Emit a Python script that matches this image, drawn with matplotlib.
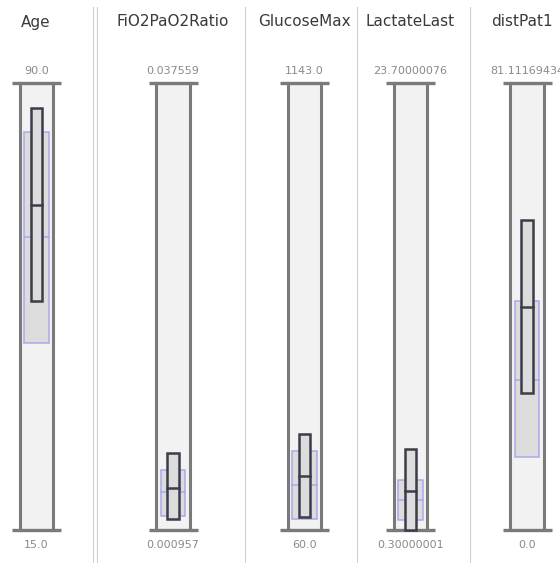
import matplotlib
matplotlib.use("Agg")
import matplotlib.pyplot as plt
from matplotlib.patches import Rectangle
from matplotlib.lines import Line2D

# column data
columns = ["Age", "FiO2PaO2Ratio", "GlucoseMax", "LactateLast", "distPat1"]
max_labels = ["90.0", "0.037559", "1143.0", "23.70000076", "81.11169434"]
min_labels = ["15.0", "0.000957", "60.0", "0.30000001", "0.0"]
col_min = [15.0, 0.000957, 60.0, 0.30000001, 0.0]
col_max = [90.0, 0.037559, 1143.0, 23.70000076, 81.11169434]

# overall box (blue outline)
all_q1 = [46.4, 0.00210, 86.6, 0.82, 13.25]
all_med = [64.2, 0.00407, 169.0, 1.87, 27.22]
all_q3 = [81.7, 0.00587, 251.4, 2.92, 41.55]

# selected box (dark outline)
sel_q1 = [53.4, 0.00186, 91.5, 0.30, 24.86]
sel_med = [69.5, 0.00440, 190.8, 2.34, 40.47]
sel_q3 = [85.8, 0.00726, 292.6, 4.54, 56.25]

# layout in pixels
W, H = 560, 563
centers = [36.5, 173, 304.5, 410.5, 527]
title_x = [36, 173, 304, 410, 522]
separators = [93, 97, 245, 357, 470]
top_px, bottom_px = 83, 530


def fx(px):
    return px / W


def fy(py):
    return 1 - py / H


fig = plt.figure(figsize=(W / 100, H / 100), dpi=100)
fig.patch.set_facecolor("white")

for x in separators:
    fig.add_artist(Line2D([fx(x), fx(x)], [fy(7), fy(H)], color="#cfcfcf", lw=0.8))

for i, name in enumerate(columns):
    c = centers[i]
    vmin, vmax = col_min[i], col_max[i]
    ax = fig.add_axes([fx(c - 28), fy(bottom_px), 56 / W, (bottom_px - top_px) / H])
    ax.set_xlim(-1, 1)
    ax.set_ylim(vmin, vmax)
    ax.axis("off")

    # background column
    ax.add_patch(Rectangle((-0.59, vmin), 1.18, vmax - vmin, fc="#f2f2f2", ec="none", zorder=1))
    for xx in (-0.59, 0.59):
        ax.plot([xx, xx], [vmin, vmax], color="#7a7a7a", lw=2.2, zorder=5, clip_on=False)
    for yy in (vmin, vmax):
        ax.plot([-0.875, 0.875], [yy, yy], color="#7a7a7a", lw=2.4,
                solid_capstyle="butt", zorder=5, clip_on=False)

    # overall box
    ax.add_patch(Rectangle((-0.43, all_q1[i]), 0.86, all_q3[i] - all_q1[i],
                           fc="#dcdcdc", ec="#a9a9ea", lw=1.1, zorder=2, clip_on=False))
    ax.plot([-0.43, 0.43], [all_med[i], all_med[i]], color="#a9a9ea", lw=1.1, zorder=2)

    # selected box
    ax.add_patch(Rectangle((-0.2, sel_q1[i]), 0.4, sel_q3[i] - sel_q1[i],
                           fc="#dcdcdc", ec="#3c3c4a", lw=1.8, zorder=6, clip_on=False))
    ax.plot([-0.2, 0.2], [sel_med[i], sel_med[i]], color="#3c3c4a", lw=1.8, zorder=6)

    fig.text(fx(title_x[i]), fy(22), name, ha="center", va="center",
             fontsize=11, color="#3a3a3a")
    fig.text(fx(c), fy(71), max_labels[i], ha="center", va="center",
             fontsize=8, color="#8a8a8a")
    fig.text(fx(c), fy(545), min_labels[i], ha="center", va="center",
             fontsize=8, color="#8a8a8a")

fig.savefig("out.png", dpi=100)
